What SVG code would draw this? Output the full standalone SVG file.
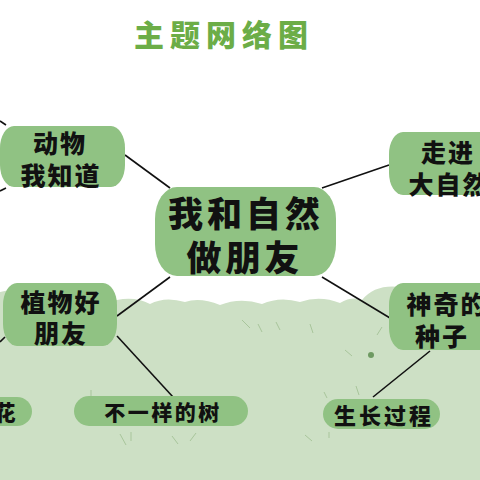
<svg xmlns="http://www.w3.org/2000/svg" width="480" height="480" viewBox="0 0 480 480">
<style>
.nd{fill:#90c283}
.tx{font-family:"Noto Sans CJK SC","Noto Sans",sans-serif;font-weight:900;fill:#111;text-anchor:middle}
.ln{stroke:#111;stroke-width:1.6;fill:none}
.gr{stroke:#a8c59b;stroke-width:1;fill:none}
</style>
<rect width="480" height="480" fill="#ffffff"/>
<path d="M0,292 Q20,286 40,290 L117,300 Q135,296 150,304 Q165,296 185,302 Q200,297 220,305 Q240,297 262,304 Q280,296 300,302 Q320,295 340,303 Q352,296 362,300 Q375,284 400,287 L480,289 L480,480 L0,480 Z" fill="#cde0c5"/>
<g id="grass">
<path class="gr" d="M242,320 L250,328 M258,324 L262,332 M276,322 L280,330 M310,324 L313,333 M382,327 L377,335 M91,390 L91,397 M120,434 L126,445 M131,432 L131,441 M172,436 L178,444 M196,433 L190,441 M345,350 L352,356 M356,386 L359,395 M327,398 L324,392 M305,435 L312,441 M329,432 L329,438"/>
<circle cx="371" cy="355" r="3" fill="#6e9a62"/>
</g>
<text class="tx" x="224" y="46" font-size="30" letter-spacing="6" style="fill:#6cad47">主题网络图</text>
<g id="connectors">
<line class="ln" x1="125" y1="155" x2="170" y2="188"/>
<line class="ln" x1="117" y1="316" x2="170" y2="277"/>
<line class="ln" x1="117" y1="336" x2="173" y2="397"/>
<line class="ln" x1="322" y1="188" x2="389" y2="165"/>
<line class="ln" x1="322" y1="277" x2="390" y2="318"/>
<line class="ln" x1="430" y1="351" x2="373" y2="397"/>
<line class="ln" x1="0" y1="121" x2="6" y2="125"/>
<line class="ln" x1="0" y1="191" x2="6" y2="188"/>
<line class="ln" x1="5" y1="337" x2="0" y2="342"/>
</g>
<g id="center">
<rect class="nd" x="155" y="187" width="181" height="89" rx="22" ry="32"/>
<text class="tx" x="246" y="227" font-size="35" letter-spacing="4">我和自然</text>
<text class="tx" x="245" y="271" font-size="35" letter-spacing="4">做朋友</text>
</g>
<g id="animals">
<rect class="nd" x="0" y="126" width="125" height="61" rx="14" ry="22"/>
<text class="tx" x="60" y="153" font-size="25" letter-spacing="2">动物</text>
<text class="tx" x="61" y="185" font-size="25" letter-spacing="2">我知道</text>
</g>
<g id="nature">
<rect class="nd" x="389" y="132" width="120" height="63" rx="14" ry="22"/>
<text class="tx" x="448" y="162" font-size="25" letter-spacing="2">走进</text>
<text class="tx" x="449" y="194" font-size="25" letter-spacing="2">大自然</text>
</g>
<g id="plants">
<rect class="nd" x="3" y="283" width="114" height="63" rx="14" ry="22"/>
<text class="tx" x="61" y="312" font-size="25" letter-spacing="2">植物好</text>
<text class="tx" x="61" y="343" font-size="25" letter-spacing="2">朋友</text>
</g>
<g id="seeds">
<rect class="nd" x="389" y="283" width="120" height="67" rx="14" ry="22"/>
<text class="tx" x="447" y="314" font-size="25" letter-spacing="2">神奇的</text>
<text class="tx" x="442" y="346" font-size="25" letter-spacing="2">种子</text>
</g>
<g id="flower">
<rect class="nd" x="-40" y="397" width="72" height="29" rx="15" ry="15"/>
<text class="tx" x="5" y="420" font-size="21">花</text>
</g>
<g id="tree">
<rect class="nd" x="74" y="396" width="174" height="30" rx="15" ry="15"/>
<text class="tx" x="163" y="420" font-size="21" letter-spacing="2.5">不一样的树</text>
</g>
<g id="growth">
<rect class="nd" x="323" y="399" width="117" height="30" rx="15" ry="15"/>
<text class="tx" x="384" y="424" font-size="22" letter-spacing="3">生长过程</text>
</g>
</svg>
